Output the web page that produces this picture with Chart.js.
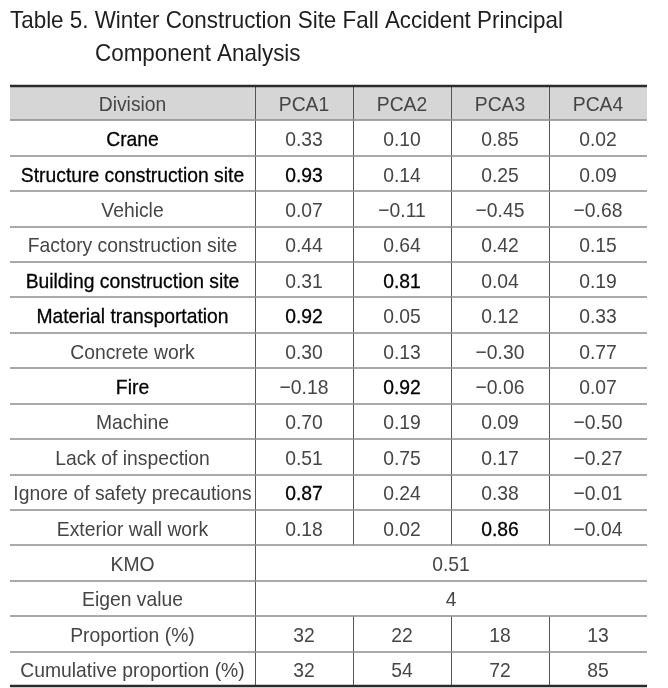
<!DOCTYPE html>
<html>
<head>
<meta charset="utf-8">
<script src="https://cdn.jsdelivr.net/npm/chart.js@4.4.1/dist/chart.umd.min.js"></script>
<style>
  html, body { margin: 0; padding: 0; background: #fff; overflow: hidden; }
  canvas { display: block; }
</style>
</head>
<body>
<canvas id="pca-table" width="668" height="688"></canvas>
<script>
// Table content
const titleLines = ['Table 5. Winter Construction Site Fall Accident Principal', 'Component Analysis'];
const columns = ['Division', 'PCA1', 'PCA2', 'PCA3', 'PCA4'];
const divisions = [
  'Crane', 'Structure construction site', 'Vehicle', 'Factory construction site',
  'Building construction site', 'Material transportation', 'Concrete work', 'Fire',
  'Machine', 'Lack of inspection', 'Ignore of safety precautions', 'Exterior wall work'
];
const pca1 = [0.33, 0.93, 0.07, 0.44, 0.31, 0.92, 0.30, -0.18, 0.70, 0.51, 0.87, 0.18];
const pca2 = [0.10, 0.14, -0.11, 0.64, 0.81, 0.05, 0.13, 0.92, 0.19, 0.75, 0.24, 0.02];
const pca3 = [0.85, 0.25, -0.45, 0.42, 0.04, 0.12, -0.30, -0.06, 0.09, 0.17, 0.38, 0.86];
const pca4 = [0.02, 0.09, -0.68, 0.15, 0.19, 0.33, 0.77, 0.07, -0.50, -0.27, -0.01, -0.04];
const summaryLabels = ['KMO', 'Eigen value', 'Proportion (%)', 'Cumulative proportion (%)'];
const kmo = 0.51;
const eigenValue = 4;
const proportion = [32, 22, 18, 13];
const cumulative = [32, 54, 72, 85];

// Highlighted entries (darker text in the source table)
const boldDivisions = ['Crane', 'Structure construction site', 'Building construction site', 'Material transportation', 'Fire'];
const boldLoadings = [[1, 0], [4, 1], [5, 0], [7, 1], [10, 0], [11, 2]]; // [division index, component index]

// Column widths in scale units (Division column is wider)
const colWidths = [2.5, 1, 1, 1, 1];
const colEdges = colWidths.reduce((acc, w) => { acc.push(acc[acc.length - 1] + w); return acc; }, [0]);
const totalRows = 1 + divisions.length + summaryLabels.length;
const mergedRows = [1 + divisions.length, 2 + divisions.length]; // KMO, Eigen value

const fmt = (v, d) => {
  const s = Math.abs(v).toFixed(d);
  return v < 0 ? '\u2212' + s : s;
};

// Build one point per cell, placed at the cell centre in scale units
const cells = [];
const center = (c) => (colEdges[c] + colEdges[c + 1]) / 2;
columns.forEach((name, c) => cells.push({ x: center(c), y: 0.5, text: name, bold: false }));
const loadings = [pca1, pca2, pca3, pca4];
divisions.forEach((name, r) => {
  const row = r + 1;
  cells.push({ x: center(0), y: row + 0.5, text: name, bold: boldDivisions.includes(name) });
  loadings.forEach((series, c) => {
    const bold = boldLoadings.some(([br, bc]) => br === r && bc === c);
    cells.push({ x: center(c + 1), y: row + 0.5, text: fmt(series[r], 2), bold });
  });
});
summaryLabels.forEach((name, i) => {
  const row = 1 + divisions.length + i;
  cells.push({ x: center(0), y: row + 0.5, text: name, bold: false });
});
const mergedCenter = (colEdges[1] + colEdges[colEdges.length - 1]) / 2;
cells.push({ x: mergedCenter, y: mergedRows[0] + 0.5, text: fmt(kmo, 2), bold: false });
cells.push({ x: mergedCenter, y: mergedRows[1] + 0.5, text: String(eigenValue), bold: false });
proportion.forEach((v, c) => cells.push({ x: center(c + 1), y: mergedRows[1] + 1.5, text: String(v), bold: false }));
cumulative.forEach((v, c) => cells.push({ x: center(c + 1), y: mergedRows[1] + 2.5, text: String(v), bold: false }));

const FONT = '"Liberation Sans", Arial, sans-serif';

// the source uses a slightly condensed face, so squeeze text horizontally
function drawText(ctx, text, x, y, squeeze, align, stroke) {
  ctx.save();
  ctx.translate(x, y);
  ctx.scale(squeeze, 1);
  ctx.textAlign = align;
  ctx.fillText(text, 0, 0);
  if (stroke) {
    ctx.strokeStyle = ctx.fillStyle;
    ctx.lineWidth = stroke;
    ctx.strokeText(text, 0, 0);
  }
  ctx.restore();
}

const tablePlugin = {
  id: 'tableGrid',
  beforeDatasetsDraw(chart) {
    const { ctx } = chart;
    const xs = chart.scales.x;
    const ys = chart.scales.y;
    const left = xs.getPixelForValue(0);
    const right = xs.getPixelForValue(colEdges[colEdges.length - 1]);
    ctx.save();
    // header background
    ctx.fillStyle = '#d6d6d6';
    ctx.fillRect(left, ys.getPixelForValue(0), right - left, ys.getPixelForValue(1) - ys.getPixelForValue(0));

    // vertical rules
    ctx.strokeStyle = '#555';
    ctx.lineWidth = 1;
    for (let r = 0; r < totalRows; r++) {
      const y0 = ys.getPixelForValue(r);
      const y1 = ys.getPixelForValue(r + 1);
      const edges = mergedRows.includes(r) ? [colEdges[1]] : colEdges.slice(1, -1);
      edges.forEach(e => {
        const x = Math.round(xs.getPixelForValue(e)) + 0.5;
        ctx.beginPath();
        ctx.moveTo(x, y0);
        ctx.lineTo(x, y1);
        ctx.stroke();
      });
    }

    // horizontal rules
    for (let r = 1; r < totalRows; r++) {
      const y = Math.round(ys.getPixelForValue(r));
      ctx.strokeStyle = '#8c8c8c';
      ctx.lineWidth = 1.6;
      ctx.beginPath();
      ctx.moveTo(left, y);
      ctx.lineTo(right, y);
      ctx.stroke();
    }
    ctx.strokeStyle = '#2b2b2b';
    ctx.lineWidth = 2.4;
    [0, totalRows].forEach(r => {
      const y = Math.round(ys.getPixelForValue(r)) + (r === 0 ? 1 : -1);
      ctx.beginPath();
      ctx.moveTo(left, y);
      ctx.lineTo(right, y);
      ctx.stroke();
    });
    ctx.restore();
  },
  afterDatasetsDraw(chart) {
    const { ctx } = chart;
    const meta = chart.getDatasetMeta(0);
    const data = chart.data.datasets[0].data;
    ctx.save();
    ctx.textBaseline = 'alphabetic';
    ctx.font = '21px ' + FONT;
    meta.data.forEach((pt, i) => {
      const cell = data[i];
      ctx.fillStyle = cell.bold ? '#000' : '#454545';
      drawText(ctx, cell.text, pt.x, pt.y + 8, 0.92, 'center', cell.bold ? 0.3 : 0);
    });

    // title
    ctx.fillStyle = '#1e1e1e';
    ctx.font = '24px ' + FONT;
    const titleSqueeze = 553 / ctx.measureText(titleLines[0]).width;
    drawText(ctx, titleLines[0], 10, 28, titleSqueeze, 'left', 0);
    drawText(ctx, titleLines[1], 95, 61, titleSqueeze, 'left', 0);
    ctx.restore();
  }
};

new Chart(document.getElementById('pca-table'), {
  type: 'scatter',
  data: {
    datasets: [{
      label: 'cells',
      data: cells,
      pointRadius: 0,
      pointHoverRadius: 0
    }]
  },
  options: {
    responsive: false,
    animation: false,
    events: [],
    layout: { padding: { left: 10, right: 21, top: 85, bottom: 1 } },
    plugins: {
      legend: { display: false },
      tooltip: { enabled: false }
    },
    scales: {
      x: { type: 'linear', display: false, min: 0, max: colEdges[colEdges.length - 1] },
      y: { type: 'linear', display: false, min: 0, max: totalRows, reverse: true }
    }
  },
  plugins: [tablePlugin]
});
</script>
</body>
</html>
